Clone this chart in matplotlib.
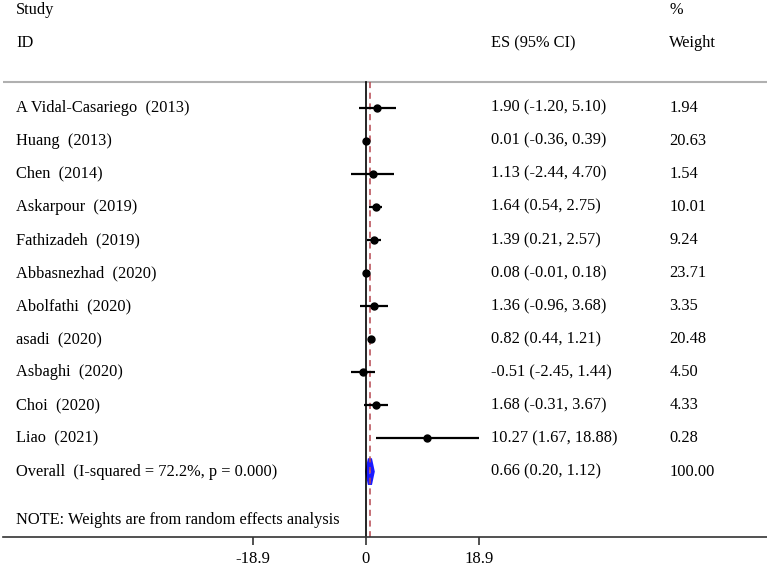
import matplotlib.pyplot as plt
import numpy as np
from matplotlib.patches import Polygon

plt.rcParams['font.family'] = ['Liberation Serif', 'DejaVu Serif']

studies = ["A Vidal-Casariego  (2013)", "Huang  (2013)", "Chen  (2014)", "Askarpour  (2019)",
           "Fathizadeh  (2019)", "Abbasnezhad  (2020)", "Abolfathi  (2020)", "asadi  (2020)",
           "Asbaghi  (2020)", "Choi  (2020)", "Liao  (2021)"]
es = [1.90, 0.01, 1.13, 1.64, 1.39, 0.08, 1.36, 0.82, -0.51, 1.68, 10.27]
lo = [-1.20, -0.36, -2.44, 0.54, 0.21, -0.01, -0.96, 0.44, -2.45, -0.31, 1.67]
hi = [5.10, 0.39, 4.70, 2.75, 2.57, 0.18, 3.68, 1.21, 1.44, 3.67, 18.88]
weight = ["1.94", "20.63", "1.54", "10.01", "9.24", "23.71", "3.35", "20.48", "4.50", "4.33", "0.28"]

overall_label = "Overall  (I-squared = 72.2%, p = 0.000)"
overall_es, overall_lo, overall_hi = 0.66, 0.20, 1.12
overall_weight = "100.00"

xticks = [-18.9, 0, 18.9]
note = "NOTE: Weights are from random effects analysis"

W, H = 767, 568
fig = plt.figure(figsize=(W / 100, H / 100), dpi=100)
# axes spans full width, its bottom spine is the x-axis line
ax = fig.add_axes([3 / W, (H - 537) / H, 1 - 3 / W, 537 / H])
ax.set_xlim(-60.70, 67.06)
ax.set_ylim(12.976, -3.248)
for s in ['top', 'left', 'right']:
    ax.spines[s].set_visible(False)
ax.spines['bottom'].set_color('#333333')
ax.spines['bottom'].set_linewidth(1.2)
ax.set_yticks([])
ax.set_xticks(xticks)
ax.set_xticklabels([f"{t:g}" for t in xticks], fontsize=12)
ax.tick_params(axis='x', direction='out', length=5.8, width=1.2, color='#333333', pad=4)

fs = 11.8
tr = ax.get_yaxis_transform()
colx = [13 / W, 490 / W, 669 / W]

# header
ax.text(colx[0], -2.946, "Study", transform=tr, fontsize=fs, va='center')
ax.text(colx[0], -1.949, "ID", transform=tr, fontsize=fs, va='center')
ax.text(colx[1], -1.949, "ES (95% CI)", transform=tr, fontsize=fs, va='center')
ax.text(colx[2], -2.946, "%", transform=tr, fontsize=fs, va='center')
ax.text(colx[2], -1.949, "Weight", transform=tr, fontsize=fs, va='center')
ax.axhline(-0.77, color='#b0b0b0', lw=1.5)

# reference lines
ax.plot([0, 0], [-0.77, 12.976], color='black', lw=1.2)
ax.plot([overall_es, overall_es], [-0.77, 12.976], color='#b5474f', lw=1.1, ls=(0, (4, 3)))

n = len(studies)
y = np.arange(n)
for i in range(n):
    ax.plot([lo[i], hi[i]], [y[i], y[i]], color='black', lw=1.6, solid_capstyle='butt')
    ax.plot(es[i], y[i], 'o', color='black', ms=5)
    ax.text(colx[0], y[i], studies[i], transform=tr, fontsize=fs, va='center')
    ax.text(colx[1], y[i], f"{es[i]:.2f} ({lo[i]:.2f}, {hi[i]:.2f})", transform=tr,
            fontsize=fs, va='center')
    ax.text(colx[2], y[i], weight[i], transform=tr, fontsize=fs, va='center')

# pooled estimate diamond
yo = n
h = 0.39
ax.add_patch(Polygon([[overall_lo, yo], [overall_es, yo - h], [overall_hi, yo], [overall_es, yo + h]],
                     closed=True, facecolor='white', edgecolor='#1a1aff', lw=3))
ax.text(colx[0], yo, overall_label, transform=tr, fontsize=fs, va='center')
ax.text(colx[1], yo, f"{overall_es:.2f} ({overall_lo:.2f}, {overall_hi:.2f})", transform=tr,
        fontsize=fs, va='center')
ax.text(colx[2], yo, overall_weight, transform=tr, fontsize=fs, va='center')

ax.text(colx[0], 12.46, note, transform=tr, fontsize=fs, va='center')

fig.savefig("out.png", dpi=100)
